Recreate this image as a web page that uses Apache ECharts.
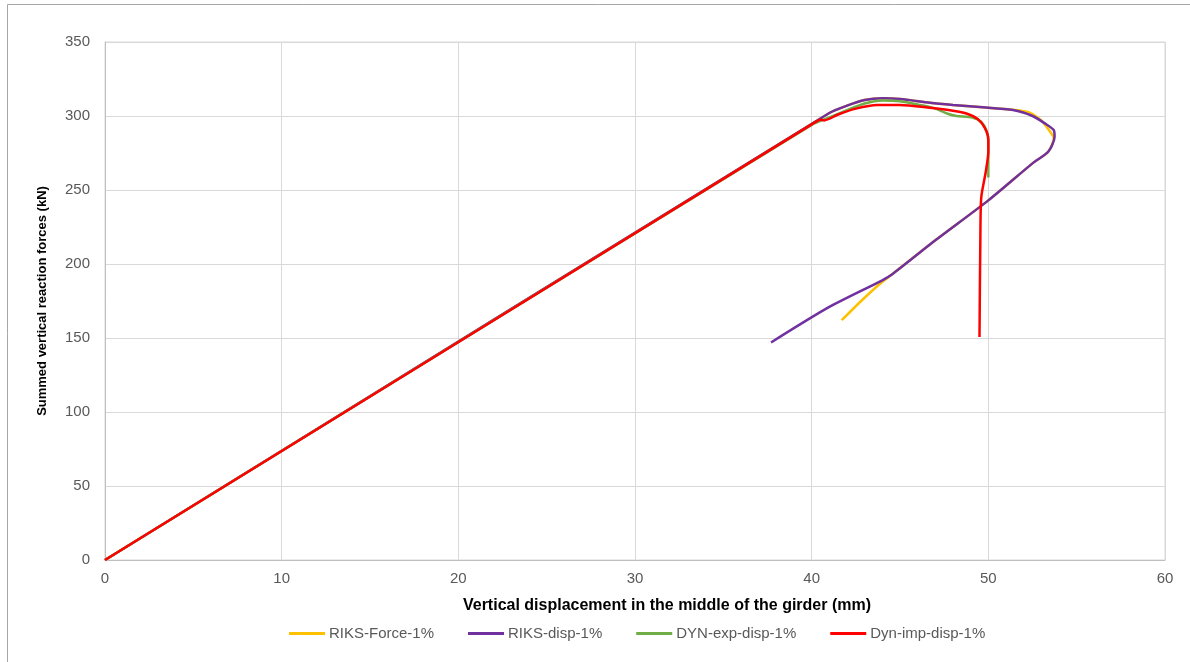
<!DOCTYPE html>
<html>
<head>
<meta charset="utf-8">
<script src="https://cdn.jsdelivr.net/npm/echarts@6/dist/echarts.min.js"></script>
<style>html,body{margin:0;padding:0;background:#fff;}#c{width:1190px;height:662px;}</style>
</head>
<body>
<div id="c"></div>
<script>
const xTitle = 'Vertical displacement in the middle of the girder (mm)';
const yTitle = 'Summed vertical reaction forces (kN)';
const seriesNames = ['RIKS-Force-1%', 'RIKS-disp-1%', 'DYN-exp-disp-1%', 'Dyn-imp-disp-1%'];

const riksForce = [[0,0],[41,302],[42,307],[43,310.8],[44,312],[45,311.5],[46.7,309],[48,307.5],[49.5,306],[51.4,304.2],[52.3,302.5],[53,297],[53.4,291],[53.7,285],[53.4,276],[52.5,268],[50,243],[47,216],[44.5,192.5],[43.9,187],[42.8,175],[41.7,162]];
const riksDisp = [[0,0],[41,302],[42,307],[43,310.8],[44,312],[45,311.5],[46.7,309],[48,307.5],[49.5,306],[51.4,304],[52.5,300],[53.2,295],[53.7,290.5],[53.75,286],[53.4,276],[52.5,268],[50,243],[47,216],[44.5,192.5],[44,189],[41,171],[37.7,147]];
const dynExp = [[0,0],[40,294],[41,299],[42,304],[43,308.5],[44,310.5],[45,310],[46.1,307.5],[47,305],[47.7,301.5],[48.2,300],[49.1,299],[49.6,296],[49.9,290],[50.0,283],[50.0,258.5]];
const dynImp = [[0,0],[40.3,296.5],[40.5,297.5],[40.7,297],[41.5,301],[42.5,305],[43.7,307.5],[45,307.5],[46.7,305.5],[48,303.5],[48.8,301.5],[49.4,298],[49.8,292],[50.0,284],[50.0,276],[49.85,262],[49.6,245],[49.55,220],[49.5,150.7]];

const colors = ['#FFC000', '#7030A0', '#70AD47', '#FF0000'];
const datasets = [riksForce, riksDisp, dynExp, dynImp];

const chart = echarts.init(document.getElementById('c'));
chart.setOption({
  animation: false,
  backgroundColor: '#fff',
  textStyle: { fontFamily: 'Liberation Sans' },
  grid: { left: 105, right: 25, top: 42, bottom: 102, show: true, borderColor: '#D9D9D9', borderWidth: 1 },
  xAxis: {
    type: 'value', min: 0, max: 60, interval: 10,
    name: xTitle, nameLocation: 'middle', nameGap: 38,
    nameTextStyle: { fontWeight: 'bold', fontSize: 16, color: '#000', padding: [0, 0, 0, 64] },
    axisLine: { show: true, lineStyle: { color: '#BFBFBF' } },
    axisTick: { show: false },
    axisLabel: { color: '#595959', fontSize: 15, margin: 11 },
    splitLine: { show: true, lineStyle: { color: '#D9D9D9', width: 1 } }
  },
  yAxis: {
    type: 'value', min: 0, max: 350, interval: 50,
    name: yTitle, nameLocation: 'middle', nameGap: 56,
    nameTextStyle: { fontWeight: 'bold', fontSize: 13, color: '#000' },
    axisLine: { show: true, lineStyle: { color: '#BFBFBF' } },
    axisTick: { show: false },
    axisLabel: { color: '#595959', fontSize: 15, margin: 15 },
    splitLine: { show: true, lineStyle: { color: '#D9D9D9', width: 1 } }
  },
  legend: {
    bottom: 16, left: 284, itemWidth: 36, itemHeight: 3, itemGap: 34,
    icon: 'rect',
    textStyle: { color: '#595959', fontSize: 15, padding: [0, 0, 0, -1] },
    data: seriesNames
  },
  graphic: [
    { type: 'line', shape: { x1: 7.5, y1: 4.5, x2: 1190, y2: 4.5 }, style: { stroke: '#A6A6A6', lineWidth: 1 } },
    { type: 'line', shape: { x1: 7.5, y1: 4.5, x2: 7.5, y2: 662 }, style: { stroke: '#A6A6A6', lineWidth: 1 } }
  ],
  series: datasets.map((d, i) => ({
    name: seriesNames[i], type: 'line', data: d, showSymbol: false, smooth: 0.25,
    color: colors[i], lineStyle: { color: colors[i], width: 2.5 }, z: 2 + i
  }))
});
</script>
</body>
</html>
